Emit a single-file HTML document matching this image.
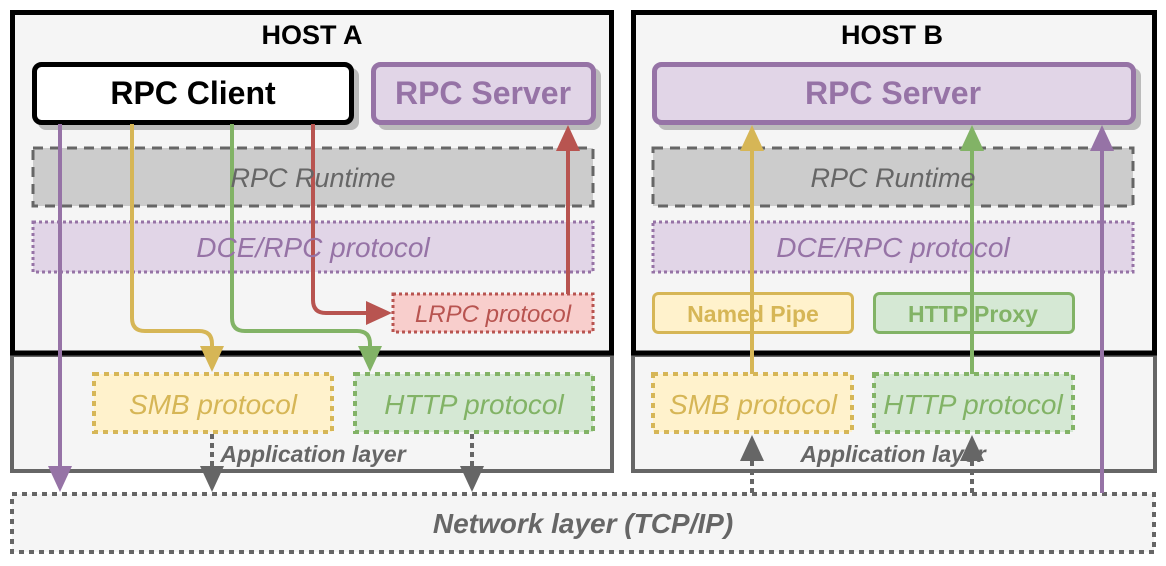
<!DOCTYPE html>
<html><head><meta charset="utf-8"><style>
html,body{margin:0;padding:0;background:#fff;}
svg{display:block;font-family:"Liberation Sans",Arial,sans-serif;}
</style></head><body>
<svg width="1166" height="566" viewBox="0 0 1166 566" xmlns="http://www.w3.org/2000/svg">
<!-- host boxes -->
<rect x="12.5" y="12.5" width="599" height="341" fill="#f5f5f5" stroke="#000" stroke-width="5"/>
<rect x="12" y="355" width="600" height="116" fill="#f5f5f5" stroke="#666" stroke-width="4"/>
<rect x="633.5" y="12.5" width="521" height="341" fill="#f5f5f5" stroke="#000" stroke-width="5"/>
<rect x="633" y="355" width="522" height="116" fill="#f5f5f5" stroke="#666" stroke-width="4"/>
<line x1="10" y1="353" x2="614" y2="353" stroke="#000" stroke-width="5"/>
<line x1="631" y1="353" x2="1157" y2="353" stroke="#000" stroke-width="5"/>
<!-- network -->
<rect x="12" y="494" width="1142" height="58" fill="#f5f5f5" stroke="#666" stroke-width="4" stroke-dasharray="5,5"/>
<text x="583" y="533" font-size="28" font-weight="bold" font-style="italic" fill="#666" text-anchor="middle">Network layer (TCP/IP)</text>
<text x="312" y="44" font-size="27" font-weight="bold" text-anchor="middle">HOST A</text>
<text x="892" y="44" font-size="27" font-weight="bold" text-anchor="middle">HOST B</text>
<!-- shadows -->
<rect x="38" y="68" width="321" height="62" rx="8" fill="#bbb"/>
<rect x="378" y="68" width="223" height="62" rx="8" fill="#bbb"/>
<rect x="658" y="68" width="483" height="62" rx="8" fill="#bbb"/>
<!-- RPC boxes -->
<rect x="34.5" y="64.5" width="317" height="58" rx="7" fill="#fff" stroke="#000" stroke-width="5"/>
<text x="193" y="104" font-size="32" font-weight="bold" text-anchor="middle">RPC Client</text>
<rect x="373.5" y="64.5" width="220" height="58" rx="7" fill="#e1d5e7" stroke="#9673a6" stroke-width="5"/>
<text x="483" y="104" font-size="32" font-weight="bold" fill="#9673a6" text-anchor="middle">RPC Server</text>
<rect x="654.5" y="64.5" width="479" height="58" rx="7" fill="#e1d5e7" stroke="#9673a6" stroke-width="5"/>
<text x="893" y="104" font-size="32" font-weight="bold" fill="#9673a6" text-anchor="middle">RPC Server</text>
<!-- runtime -->
<rect x="33" y="148" width="560" height="58" fill="#ccc" stroke="#666" stroke-width="3" stroke-dasharray="10,7"/>
<rect x="653" y="148" width="480" height="58" fill="#ccc" stroke="#666" stroke-width="3" stroke-dasharray="10,7"/>
<!-- DCE -->
<rect x="33" y="222" width="560" height="50" fill="#e1d5e7" stroke="#9673a6" stroke-width="3" stroke-dasharray="3,3"/>
<rect x="653" y="222" width="480" height="50" fill="#e1d5e7" stroke="#9673a6" stroke-width="3" stroke-dasharray="3,3"/>
<!-- LRPC -->
<rect x="393" y="294" width="200" height="38" fill="#f8cecc" stroke="#b85450" stroke-width="3" stroke-dasharray="3,3"/>
<text x="493" y="322" font-size="24" font-style="italic" fill="#b85450" text-anchor="middle">LRPC protocol</text>
<!-- Named pipe / proxy -->
<rect x="653.5" y="293.5" width="199" height="39" rx="5" fill="#fff2cc" stroke="#d6b656" stroke-width="3"/>
<text x="753" y="322" font-size="23" font-weight="bold" fill="#d6b656" text-anchor="middle">Named Pipe</text>
<rect x="874.5" y="293.5" width="199" height="39" rx="5" fill="#d5e8d4" stroke="#82b366" stroke-width="3"/>
<text x="973" y="322" font-size="23" font-weight="bold" fill="#82b366" text-anchor="middle">HTTP Proxy</text>
<!-- SMB / HTTP -->
<rect x="94" y="374" width="238" height="58" fill="#fff2cc" stroke="#d6b656" stroke-width="4" stroke-dasharray="5,5"/>
<rect x="355" y="374" width="238" height="58" fill="#d5e8d4" stroke="#82b366" stroke-width="4" stroke-dasharray="5,5"/>
<rect x="653" y="374" width="199" height="58" fill="#fff2cc" stroke="#d6b656" stroke-width="4" stroke-dasharray="5,5"/>
<rect x="874" y="374" width="199" height="58" fill="#d5e8d4" stroke="#82b366" stroke-width="4" stroke-dasharray="5,5"/>
<g font-size="28" font-style="italic" text-anchor="middle">
<text x="213" y="414" fill="#d6b656">SMB protocol</text>
<text x="474" y="414" fill="#82b366">HTTP protocol</text>
<text x="753" y="414" fill="#d6b656">SMB protocol</text>
<text x="973" y="414" fill="#82b366">HTTP protocol</text>
</g>
<!-- connectors host A -->
<g fill="none" stroke-width="4">
<path d="M60,124 V470" stroke="#9673a6"/>
<path d="M132,124 V318 Q132,331 145,331 H199 Q212,331 212,344 V350" stroke="#d6b656"/>
<path d="M232,124 V318 Q232,331 245,331 H357 Q370,331 370,344 V350" stroke="#82b366"/>
<path d="M313,124 V300 Q313,313 326,313 H370" stroke="#b85450"/>
<path d="M568,294 V148" stroke="#b85450"/>
<path d="M212,434 V472" stroke="#666" stroke-dasharray="5,4"/>
<path d="M472,434 V472" stroke="#666" stroke-dasharray="5,4"/>
<path d="M752,374 V148" stroke="#d6b656"/>
<path d="M972,374 V148" stroke="#82b366"/>
<path d="M1102,493 V148" stroke="#9673a6"/>
<path d="M752,493 V458" stroke="#666" stroke-dasharray="5,4"/>
<path d="M972,493 V458" stroke="#666" stroke-dasharray="5,4"/>
</g>
<!-- arrowheads -->
<path d="M48,466 L72,466 L60,492 z" fill="#9673a6"/>
<path d="M200,346 L224,346 L212,372 z" fill="#d6b656"/>
<path d="M358,346 L382,346 L370,372 z" fill="#82b366"/>
<path d="M366,301 L366,325 L392,313 z" fill="#b85450"/>
<path d="M556,151 L580,151 L568,125 z" fill="#b85450"/>
<path d="M200,466 L224,466 L212,492 z" fill="#666"/>
<path d="M460,466 L484,466 L472,492 z" fill="#666"/>
<path d="M740,151 L764,151 L752,125 z" fill="#d6b656"/>
<path d="M960,151 L984,151 L972,125 z" fill="#82b366"/>
<path d="M1090,151 L1114,151 L1102,125 z" fill="#9673a6"/>
<path d="M740,461 L764,461 L752,435 z" fill="#666"/>
<path d="M960,461 L984,461 L972,435 z" fill="#666"/>
<!-- layer labels on top -->
<g font-size="27" font-style="italic" fill="#666" text-anchor="middle">
<text x="313" y="187">RPC Runtime</text>
<text x="893" y="187">RPC Runtime</text>
</g>
<g font-size="28" font-style="italic" fill="#9673a6" text-anchor="middle">
<text x="313" y="257">DCE/RPC protocol</text>
<text x="893" y="257">DCE/RPC protocol</text>
</g>
<g font-size="23" font-weight="bold" font-style="italic" fill="#666" text-anchor="middle">
<text x="313" y="462">Application layer</text>
<text x="893" y="462">Application layer</text>
</g>
</svg>
</body></html>
